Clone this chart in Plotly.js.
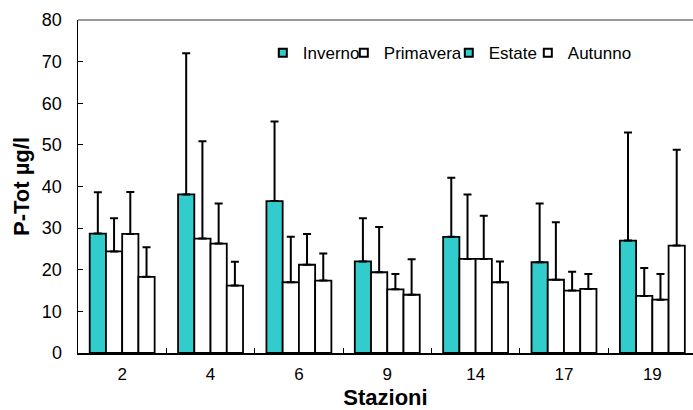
<!DOCTYPE html>
<html>
<head>
<meta charset="utf-8">
<script src="https://cdn.plot.ly/plotly-3.0.1.min.js"></script>
<style>html,body{margin:0;padding:0;background:#fff;overflow:hidden}</style>
</head>
<body>
<div id="chart" style="width:693px;height:410px"></div>
<script>
const stations = ['2', '4', '6', '9', '14', '17', '19'];
const seriesNames = ['Inverno', 'Primavera', 'Estate', 'Autunno'];
const inverno = [28.7, 38.1, 36.5, 22.0, 27.9, 21.8, 27.0];
const invernoErr = [9.9, 33.9, 19.1, 10.4, 14.2, 14.1, 26.0];
const primavera = [24.4, 27.5, 17.0, 19.4, 22.6, 17.6, 13.7];
const primaveraErr = [8.0, 23.4, 10.9, 10.9, 15.5, 13.8, 6.7];
const estate = [28.6, 26.3, 21.2, 15.3, 22.6, 15.0, 12.8];
const estateErr = [10.1, 9.6, 7.4, 3.7, 10.4, 4.5, 6.2];
const autunno = [18.3, 16.2, 17.4, 14.0, 17.0, 15.4, 25.8];
const autunnoErr = [7.1, 5.7, 6.5, 8.5, 5.0, 3.6, 23.0];

const TEAL = '#33CCCC';
const WHITE = '#FFFFFF';
const barFill = [TEAL, WHITE, WHITE, WHITE];
const legendFill = [TEAL, WHITE, TEAL, WHITE];
const values = [inverno, primavera, estate, autunno];
const errs = [invernoErr, primaveraErr, estateErr, autunnoErr];
const legendIds = ['legend', 'legend2', 'legend3', 'legend4'];
const legendX = [0.3005, 0.4322, 0.6029, 0.7314];

const traces = [];
values.forEach((v, i) => {
  traces.push({
    type: 'bar',
    x: stations,
    y: v,
    name: seriesNames[i],
    showlegend: false,
    marker: {color: barFill[i], line: {color: '#000', width: 1.8}},
    error_y: {type: 'data', array: errs[i], symmetric: false,
              arrayminus: v.map(() => 0), color: '#000', thickness: 2, width: 4},
    hoverinfo: 'x+y+name'
  });
});
seriesNames.forEach((n, i) => {
  traces.push({
    type: 'scatter', mode: 'markers', x: [null], y: [null], name: n,
    legend: legendIds[i],
    marker: {symbol: 'square', size: 8, color: legendFill[i], line: {color: '#000', width: 2}},
    showlegend: true
  });
});

const layout = {
  width: 693, height: 410,
  margin: {l: 78, r: 0, t: 20, b: 57},
  paper_bgcolor: '#fff', plot_bgcolor: '#fff',
  font: {family: '"Liberation Sans", Arial, sans-serif', color: '#000', size: 16},
  barmode: 'group', bargap: 0.265, bargroupgap: 0,
  showlegend: true,
  xaxis: {
    type: 'category', categoryorder: 'array', categoryarray: stations,
    range: [-0.5, 6.46], showline: true, linecolor: '#000', linewidth: 1.5,
    ticks: 'inside', tickson: 'boundaries', ticklen: 5, tickcolor: '#000', tickwidth: 1,
    tickfont: {size: 17}, showgrid: false, zeroline: false,
    ticklabelstandoff: 5,
    title: {text: 'Stazioni', font: {size: 22, weight: 'bold'}, standoff: 6}
  },
  yaxis: {
    range: [0, 80], dtick: 10, showline: true, linecolor: '#000', linewidth: 1.5,
    ticks: 'inside', ticklen: 5, tickcolor: '#000', tickwidth: 1,
    tickfont: {size: 18}, showgrid: false, zeroline: false,
    ticklabelstandoff: 11,
    title: {text: 'P-Tot µg/l', font: {size: 22, weight: 'bold'}, standoff: 6}
  },
  shapes: [{type: 'line', xref: 'paper', yref: 'paper', x0: 0, x1: 1, y0: 1, y1: 1,
            line: {color: '#777', width: 1.5}}]
};
legendIds.forEach((id, i) => {
  layout[id] = {orientation: 'h', x: legendX[i], xanchor: 'left', y: 0.9, yanchor: 'middle',
                bgcolor: 'rgba(0,0,0,0)', font: {size: 17}, itemwidth: 30};
});

Plotly.newPlot('chart', traces, layout, {displayModeBar: false, staticPlot: true});
</script>
</body>
</html>
